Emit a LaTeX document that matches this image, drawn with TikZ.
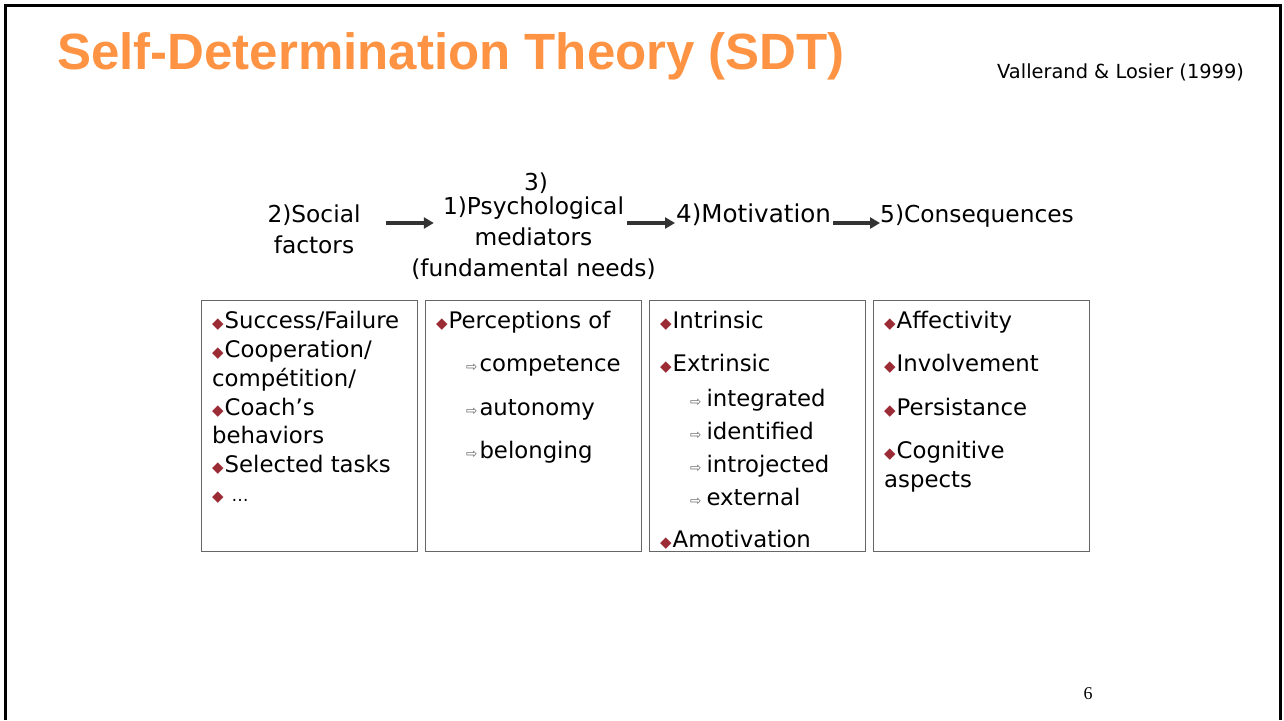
\documentclass[tikz,border=0pt]{standalone}
\usepackage{fontspec}
\setmainfont{DejaVu Sans}
\newfontfamily\titlefont{Liberation Sans}
\newfontfamily\dejavu{DejaVu Sans}
\newfontfamily\pagefont{Liberation Serif}
\usetikzlibrary{arrows.meta}
\definecolor{titleorange}{HTML}{FF9344}
\definecolor{bulred}{HTML}{9B2B35}
\definecolor{boxgray}{HTML}{666666}
\definecolor{arrgray}{HTML}{333333}
\newcommand\dia{{\dejavu\fontsize{15}{15}\selectfont\color{bulred}\raisebox{0pt}{◆}}\hspace{1pt}}
\newcommand\sub{{\dejavu\fontsize{13.5}{13.5}\selectfont\color{boxgray}⇨}\hspace{2pt}}
\begin{document}
\begin{tikzpicture}[x=1pt,y=-1pt,
  txt/.style={anchor=base west,inner sep=0pt,font=\fontsize{22.8}{26}\selectfont},
  head/.style={anchor=base,inner sep=0pt,font=\fontsize{23.3}{28}\selectfont},
  box/.style={draw=boxgray,line width=1pt,minimum width=216pt,minimum height=251pt,inner sep=0pt},
  arr/.style={draw=arrgray,line width=3.5pt,-{Triangle[length=10pt,width=11pt]}}]
\useasboundingbox (0,0) rectangle (1284,720);
\fill[white] (0,0) rectangle (1284,720);
\draw[line width=3pt] (5,720) -- (5,5) -- (1280,5) -- (1280,720);

\node[anchor=base west,inner sep=0pt,font=\titlefont\bfseries\fontsize{51}{56}\selectfont,text=titleorange] (title) at (57,69) {Self-Determination Theory (SDT)};
\node[anchor=base west,inner sep=0pt,font=\fontsize{19.4}{24}\selectfont] (ref) at (997,78) {Vallerand \& Losier (1999)};
\node[anchor=base,inner sep=0pt,font=\pagefont\fontsize{18}{20}\selectfont] (page) at (1088,699) {6};

% header
\node[head,text width=100pt,align=center] (soc1) at (314,222) {2)Social};
\node[head] (soc2) at (314,253) {factors};
\node[head] (psy0) at (536,190) {3)};
\node[head,text width=183pt,align=center] (psy1) at (533.5,214) {1)Psychological};
\node[head] (psy2) at (533.5,245) {mediators};
\node[head] (psy3) at (533.5,276) {(fundamental needs)};
\node[head,anchor=base west,font=\fontsize{24.6}{28}\selectfont] (mot) at (676,222) {4)Motivation};
\node[head,anchor=base west] (cons) at (880,222) {5)Consequences};

\draw[arr] ([xshift=22pt,yshift=-1pt]soc1.base east) -- ([xshift=-8pt,yshift=-9pt]psy1.base west);
\draw[arr] ([xshift=2pt,yshift=-9pt]psy1.base east) -- ([xshift=-1pt,yshift=-1pt]mot.base west);
\draw[arr] ([xshift=2pt,yshift=-1pt]mot.base east) -- ([xshift=0pt,yshift=-1pt]cons.base west);

% boxes
\node[box] (bx1) at (309,425.5) {};
\node[box] (bx2) at (533,425.5) {};
\node[box] (bx3) at (757,425.5) {};
\node[box] (bx4) at (981,425.5) {};

% box 1
\node[txt] (a1) at (212,328) {\dia Success/Failure};
\node[txt] (a2) at (212,357) {\dia Cooperation/};
\node[txt] (a3) at (212,386) {compétition/};
\node[txt] (a4) at (212,415) {\dia Coach’s};
\node[txt] (a5) at (212,443) {behaviors};
\node[txt] (a6) at (212,472) {\dia Selected tasks};
\node[txt] (a7) at (212,501) {\dia\hspace{7pt}{\fontsize{17}{17}\selectfont …}};

% box 2
\node[txt] (b1) at (436,328) {\dia Perceptions of};
\node[txt] (b2) at (466,371) {\sub competence};
\node[txt] (b3) at (466,415) {\sub autonomy};
\node[txt] (b4) at (466,458) {\sub belonging};

% box 3
\node[txt] (c1) at (660,328) {\dia Intrinsic};
\node[txt] (c2) at (660,371) {\dia Extrinsic};
\node[txt] (c3) at (690,406) {\sub\hspace{3pt}integrated};
\node[txt] (c4) at (690,439) {\sub\hspace{3pt}identified};
\node[txt] (c5) at (690,472) {\sub\hspace{3pt}introjected};
\node[txt] (c6) at (690,505) {\sub\hspace{3pt}external};
\node[txt] (c7) at (660,547) {\dia Amotivation};

% box 4
\node[txt] (d1) at (884,328) {\dia Affectivity};
\node[txt] (d2) at (884,371) {\dia Involvement};
\node[txt] (d3) at (884,415) {\dia Persistance};
\node[txt] (d4) at (884,458) {\dia Cognitive};
\node[txt] (d5) at (884,487) {aspects};
\end{tikzpicture}
\end{document}
